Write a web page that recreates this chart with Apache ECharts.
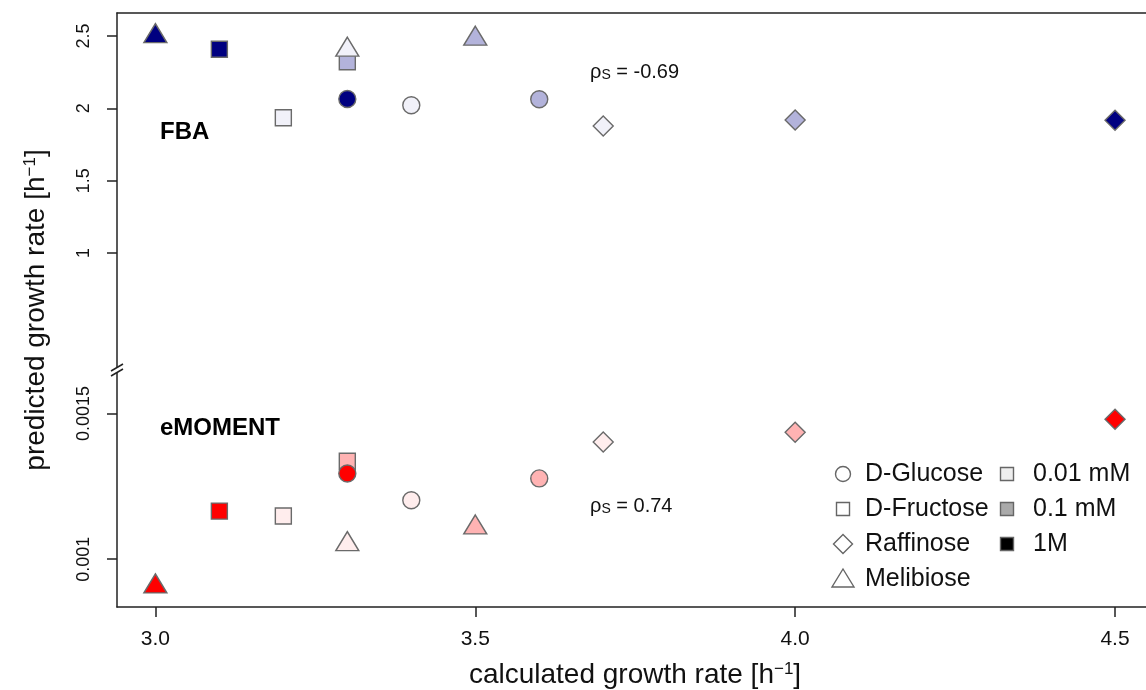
<!DOCTYPE html>
<html><head><meta charset="utf-8">
<script src="https://cdn.jsdelivr.net/npm/echarts@6/dist/echarts.min.js"></script>
<style>html,body{margin:0;padding:0;background:#fff}#c{width:1146px;height:690px}</style>
</head><body><div id="c"></div>
<script>
// ---- data ----
const sugars = ['D-Glucose', 'D-Fructose', 'Raffinose', 'Melibiose'];
const concentrations = ['0.01 mM', '0.1 mM', '1M'];
// calculated growth rate for each sugar at 0.01 mM, 0.1 mM, 1M
const calcGlucose   = [3.4, 3.6, 3.3];
const calcFructose  = [3.2, 3.3, 3.1];
const calcRaffinose = [3.7, 4.0, 4.5];
const calcMelibiose = [3.3, 3.5, 3.0];
// FBA predicted growth rate
const fbaGlucose   = [2.021, 2.063, 2.065];
const fbaFructose  = [1.935, 2.322, 2.408];
const fbaRaffinose = [1.878, 1.920, 1.918];
const fbaMelibiose = [2.426, 2.502, 2.520];
// eMOMENT predicted growth rate
const momGlucose   = [0.001202, 0.001277, 0.001294];
const momFructose  = [0.001148, 0.001336, 0.001165];
const momRaffinose = [0.001402, 0.001435, 0.001480];
const momMelibiose = [0.001062, 0.001119, 0.000917];
// ticks
const xTicks = [3.0, 3.5, 4.0, 4.5];
const fbaTicks = [1, 1.5, 2, 2.5];
const fbaTickLabels = ['1', '1.5', '2', '2.5'];
const momTicks = [0.001, 0.0015];
const momTickLabels = ['0.001', '0.0015'];
const rhoFBA = '-0.69';
const rhoMOM = '0.74';

// ---- styles ----
const FONT = "'Liberation Sans', Arial, Helvetica, sans-serif";
const fbaColors = ['#F1F1F9', '#B3B3DB', '#000080'];
const momColors = ['#FFEDED', '#FFB3B3', '#FF0000'];
const legendConcColors = ['#EEEEEE', '#AAAAAA', '#000000'];
const symbolOf = {'D-Glucose': 'circle', 'D-Fructose': 'rect', 'Raffinose': 'diamond', 'Melibiose': 'triangle'};
const sizeOf = {'D-Glucose': 17, 'D-Fructose': 16, 'Raffinose': [20, 20], 'Melibiose': [23, 19]};
const calc = {'D-Glucose': calcGlucose, 'D-Fructose': calcFructose, 'Raffinose': calcRaffinose, 'Melibiose': calcMelibiose};
const fba = {'D-Glucose': fbaGlucose, 'D-Fructose': fbaFructose, 'Raffinose': fbaRaffinose, 'Melibiose': fbaMelibiose};
const mom = {'D-Glucose': momGlucose, 'D-Fructose': momFructose, 'Raffinose': momRaffinose, 'Melibiose': momMelibiose};
const AX = '#222';
const drawOrder = ['D-Fructose', 'D-Glucose', 'Raffinose', 'Melibiose'];

const series = [];
[[fba, fbaColors, 0], [mom, momColors, 1]].forEach(([vals, cols, gi]) => {
  drawOrder.forEach(s => {
    series.push({
      type: 'scatter', name: s, xAxisIndex: gi, yAxisIndex: gi,
      symbol: symbolOf[s], symbolSize: sizeOf[s],
      data: calc[s].map((x, i) => ({value: [x, vals[s][i]], itemStyle: {color: cols[i]}})),
      itemStyle: {borderColor: '#6a6a6a', borderWidth: 1.4, opacity: 1},
      emphasis: {disabled: true}, silent: true
    });
  });
});

const X0 = 117, XR = 1146, YT = 13, YB = 607, YBRK = 372;
const XMIN = 2.94, XMAX = 4.5484;

// legend graphics
const legendEls = [];
const rows = [474, 509, 544, 579];
const stroke = {stroke: '#666', lineWidth: 1.4};
sugars.forEach((s, i) => {
  const cx = 843, cy = rows[i];
  let el;
  if (s === 'D-Glucose') el = {type: 'circle', shape: {cx, cy, r: 7.5}, style: {fill: '#fff', ...stroke}};
  else if (s === 'D-Fructose') el = {type: 'rect', shape: {x: cx - 6.5, y: cy - 6.5, width: 13, height: 13}, style: {fill: '#fff', ...stroke}};
  else if (s === 'Raffinose') el = {type: 'polygon', shape: {points: [[cx, cy - 9.5], [cx + 9.5, cy], [cx, cy + 9.5], [cx - 9.5, cy]]}, style: {fill: '#fff', ...stroke}};
  else el = {type: 'polygon', shape: {points: [[cx, cy - 10], [cx + 11, cy + 8], [cx - 11, cy + 8]]}, style: {fill: '#fff', ...stroke}};
  legendEls.push(el);
  legendEls.push({type: 'text', x: 865, y: cy, style: {text: s, fontSize: 25, fontFamily: FONT, fill: '#111', align: 'left', verticalAlign: 'middle'}});
});
concentrations.forEach((c, i) => {
  const cx = 1007, cy = rows[i];
  legendEls.push({type: 'rect', shape: {x: cx - 6.5, y: cy - 6.5, width: 13, height: 13}, style: {fill: legendConcColors[i], ...stroke}});
  legendEls.push({type: 'text', x: 1033, y: cy, style: {text: c, fontSize: 25, fontFamily: FONT, fill: '#111', align: 'left', verticalAlign: 'middle'}});
});

const rhoRich = {
  r: {fontSize: 20, fontFamily: FONT, fill: '#111'},
  sub: {fontSize: 14, fontFamily: FONT, fill: '#111', verticalAlign: 'bottom', padding: [6, 0, 0, 0]},
  n: {fontSize: 20, fontFamily: FONT, fill: '#111'}
};

const option = {
  backgroundColor: '#fff',
  animation: false,
  grid: [
    {left: X0, width: XR - X0, top: YT, height: YBRK - YT},
    {left: X0, width: XR - X0, top: YBRK, height: YB - YBRK}
  ],
  xAxis: [
    {gridIndex: 0, type: 'value', min: XMIN, max: XMAX, position: 'top',
     axisLine: {show: true, onZero: false, lineStyle: {color: AX, width: 1.5}},
     axisTick: {show: false}, axisLabel: {show: false}, splitLine: {show: false}},
    {gridIndex: 1, type: 'value', min: XMIN, max: XMAX, position: 'bottom',
     axisLine: {show: true, onZero: false, lineStyle: {color: AX, width: 1.5}},
     axisTick: {show: true, length: 10, customValues: xTicks, lineStyle: {color: AX, width: 1.5}},
     axisLabel: {customValues: xTicks, formatter: v => Number(v).toFixed(1), fontSize: 21, fontFamily: FONT, color: '#111', margin: 22},
     splitLine: {show: false}},
  ],
  yAxis: [
    {gridIndex: 0, type: 'value', min: 0.178, max: 2.659,
     axisLine: {show: true, onZero: false, lineStyle: {color: AX, width: 1.5}},
     axisTick: {show: true, length: 10, customValues: fbaTicks, lineStyle: {color: AX, width: 1.5}},
     axisLabel: {customValues: fbaTicks, rotate: 90, margin: 24, fontSize: 18, fontFamily: FONT, color: '#111',
       formatter: v => fbaTickLabels[fbaTicks.indexOf(Number(v))] ?? String(v)},
     splitLine: {show: false}},
    {gridIndex: 1, type: 'value', min: 0.000836, max: 0.001642,
     axisLine: {show: true, onZero: false, lineStyle: {color: AX, width: 1.5}},
     axisTick: {show: true, length: 10, customValues: momTicks, lineStyle: {color: AX, width: 1.5}},
     axisLabel: {customValues: momTicks, rotate: 90, margin: 24, fontSize: 18, fontFamily: FONT, color: '#111',
       formatter: v => { const k = momTicks.findIndex(t => Math.abs(t - v) < 1e-9); return k >= 0 ? momTickLabels[k] : String(v); }},
     splitLine: {show: false}}
  ],
  series,
  graphic: [
    // axis break marks
    {type: 'polygon', shape: {points: [[111, 371], [123, 364], [123, 369], [111, 376]]}, style: {fill: '#fff'}, z: 100},
    {type: 'line', shape: {x1: 111, y1: 371, x2: 123, y2: 364}, style: {stroke: AX, lineWidth: 1.5}, z: 101},
    {type: 'line', shape: {x1: 111, y1: 376, x2: 123, y2: 369}, style: {stroke: AX, lineWidth: 1.5}, z: 101},
    // x title (centered on the plotted range 2.94 .. 4.56)
    {type: 'text', x: 635, y: 675,
     style: {text: 'calculated growth rate [h{sup|−1}]', fontSize: 28, fontFamily: FONT, fill: '#111', align: 'center', verticalAlign: 'middle',
       rich: {sup: {fontSize: 17, fontFamily: FONT, fill: '#111', verticalAlign: 'top'}}}},
    // y title
    {type: 'text', x: 36, y: 310, rotation: Math.PI / 2,
     style: {text: 'predicted growth rate [h{sup|−1}]', fontSize: 28, fontFamily: FONT, fill: '#111', align: 'center', verticalAlign: 'middle',
       rich: {sup: {fontSize: 17, fontFamily: FONT, fill: '#111', verticalAlign: 'top'}}}},
    // panel labels
    {type: 'text', x: 160, y: 132, style: {text: 'FBA', fontSize: 24, fontWeight: 'bold', fontFamily: FONT, fill: '#000', align: 'left', verticalAlign: 'middle'}},
    {type: 'text', x: 160, y: 428, style: {text: 'eMOMENT', fontSize: 24, fontWeight: 'bold', fontFamily: FONT, fill: '#000', align: 'left', verticalAlign: 'middle'}},
    // correlation annotations
    {type: 'text', x: 590, y: 72, style: {text: '{r|ρ}{sub|S}{n| = ' + rhoFBA + '}', align: 'left', verticalAlign: 'middle', rich: rhoRich}},
    {type: 'text', x: 590, y: 506, style: {text: '{r|ρ}{sub|S}{n| = ' + rhoMOM + '}', align: 'left', verticalAlign: 'middle', rich: rhoRich}},
    ...legendEls
  ]
};
const chart = echarts.init(document.getElementById('c'), null, {renderer: 'canvas'});
chart.setOption(option);
</script>
</body></html>
